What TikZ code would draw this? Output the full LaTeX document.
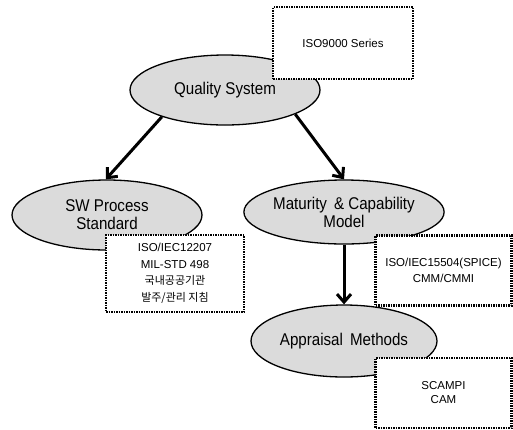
\documentclass[tikz,border=0pt]{standalone}
\usepackage{fontspec}
\setmainfont{Liberation Sans}
\newfontfamily\narrowsans[FakeStretch=0.89]{Liberation Sans}
\newfontfamily\kofont{Noto Sans CJK KR}
\usetikzlibrary{shapes.geometric,arrows.meta}
\begin{document}
\begin{tikzpicture}[x=1pt,y=-1pt,
  topic/.style={ellipse,draw=black,line width=1.3pt,fill=black!14,inner sep=0pt,
    align=center,font=\narrowsans\fontsize{17}{18}\selectfont},
  notebox/.style={rectangle,draw=black,line width=2.2pt,
    dash pattern=on 1.5pt off 1pt,fill=white,inner sep=0pt,
    align=center,font=\fontsize{11.5}{16.5}\selectfont},
  link/.style={line width=3pt,-{Straight Barb[length=8pt,width=14pt]}}]
\useasboundingbox (0,0) rectangle (513,429);

% main topics
\node[topic,minimum width=190,minimum height=70] (quality) at (225,90) {Quality System};
\node[topic,minimum width=190,minimum height=70] (swproc) at (107,215) {SW Process\\Standard};
\node[topic,minimum width=188,minimum height=64] (maturity) at (344,212) {Maturity \,\& Capability\\Model};
\node[topic,minimum width=186,minimum height=72] (appraisal) at (344,341) {Appraisal \,Methods};

% relations
\draw[link] (quality.203) -- (swproc.92);
\draw[link] (quality.-19) -- (maturity.north);
\draw[link] (maturity.south) -- (appraisal.north);

% annotation boxes
\node[notebox,minimum width=140,minimum height=72] (isoseries) at (343,43) {ISO9000 Series};
\node[notebox,minimum width=138,minimum height=77] (swlist) at (175,273.5)
  {ISO/IEC12207\\MIL-STD 498\\{\kofont\fontsize{11}{16.5}\selectfont 국내공공기관}\\{\kofont\fontsize{11}{16.5}\selectfont 발주/관리 지침}};
\node[notebox,minimum width=136,minimum height=70] (spice) at (443.5,270.5) {ISO/IEC15504(SPICE)\\CMM/CMMI};
\node[notebox,minimum width=136,minimum height=70,font=\fontsize{11.5}{14}\selectfont] (scampi) at (443.5,393) {SCAMPI\\CAM};
\end{tikzpicture}
\end{document}
